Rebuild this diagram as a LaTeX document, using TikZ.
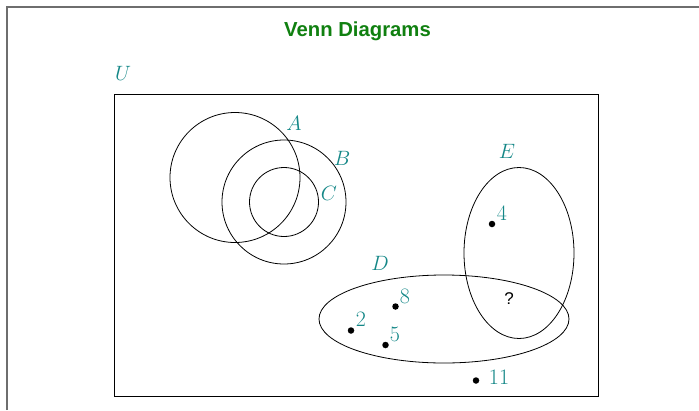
\documentclass[tikz,border=0pt]{standalone}
\usepackage{fontspec}
\newfontfamily\titlefont{Liberation Sans}
\usetikzlibrary{shapes.geometric}
\definecolor{lblteal}{RGB}{20,135,135}
\definecolor{ttlgreen}{RGB}{16,128,16}
\definecolor{framegray}{RGB}{110,110,110}
\tikzset{
  setline/.style={draw=black, line width=0.8pt, inner sep=0pt},
  setcircle/.style={setline, circle},
  setellipse/.style={setline, ellipse},
  setlabel/.style={text=lblteal, inner sep=0pt, font=\fontsize{22}{26}\selectfont},
  elem/.style={circle, fill=black, inner sep=0pt, minimum size=6.5pt},
}
\begin{document}
\begin{tikzpicture}[x=1pt,y=-1pt]
\useasboundingbox (0,0) rectangle (699,410);
% outer frame (partially visible)
\coordinate (fTL) at (7,7);
\coordinate (fTR) at (699,7);
\coordinate (fBL) at (7,410);
\draw[framegray, line width=1.2pt] (fBL) -- (fTL) -- (fTR);
% title
\node[text=ttlgreen, font=\titlefont\bfseries\fontsize{20.3}{24}\selectfont] (title) at (357.5,31) {Venn Diagrams};
% universe
\node[draw=black, line width=0.9pt, minimum width=484pt, minimum height=302pt, inner sep=0pt, anchor=north west] (Ubox) at (114,94) {};
\node[setlabel] (Ul) at (123,73) {$U$};
% circles
\node[setcircle, minimum size=130pt] (A) at (235,177.5) {};
\node[setcircle, minimum size=124pt] (B) at (284,202) {};
\node[setcircle, minimum size=69pt] (C) at (284,202) {};
\node[setlabel] (Al) at (294,123) {$A$};
\node[setlabel] (Bl) at (342,158) {$B$};
\node[setlabel] (Cl) at (329,193) {$C$};
% ellipses
\node[setellipse, minimum width=250pt, minimum height=88pt] (D) at (444,319) {};
\node[setellipse, minimum width=110pt, minimum height=171pt] (E) at (519,253) {};
\node[setlabel] (Dl) at (380,263) {$D$};
\node[setlabel] (El) at (507,151) {$E$};
% elements
\node[elem] (p4) at (492,224) {};
\node[setlabel] (l4) at (502,213) {4};
\node[elem] (p8) at (395.5,306.5) {};
\node[setlabel] (l8) at (405,296) {8};
\node[elem] (p2) at (351,330.5) {};
\node[setlabel] (l2) at (361,319) {2};
\node[elem] (p5) at (385.5,345) {};
\node[setlabel] (l5) at (395,334) {5};
\node[elem] (p11) at (476,380.5) {};
\node[setlabel] (l11) at (499,377) {11};
\node[font=\titlefont\fontsize{17}{20}\selectfont, inner sep=0pt] (q) at (509,299) {?};
\end{tikzpicture}
\end{document}
